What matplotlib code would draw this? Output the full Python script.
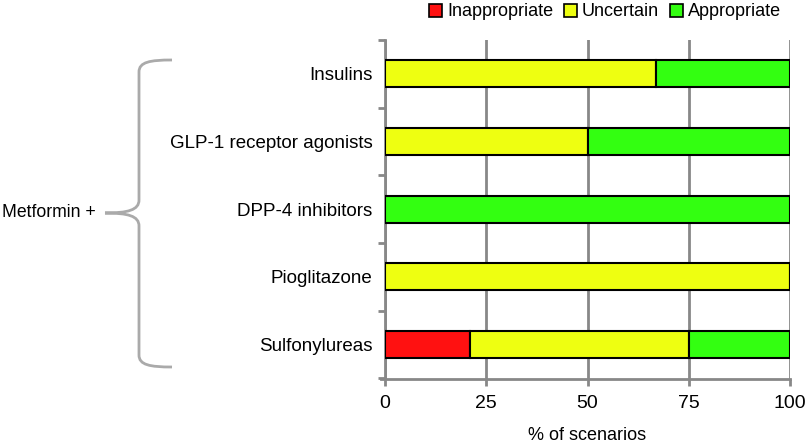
import numpy as np
import matplotlib.pyplot as plt
from matplotlib.path import Path
from matplotlib.patches import PathPatch, Patch
from matplotlib.transforms import Affine2D

categories = ['Insulins', 'GLP-1 receptor agonists', 'DPP-4 inhibitors',
              'Pioglitazone', 'Sulfonylureas']
inappropriate = [0, 0, 0, 0, 21]
uncertain = [67, 50, 0, 100, 54]
appropriate = [33, 50, 100, 0, 25]
series_names = ['Inappropriate', 'Uncertain', 'Appropriate']
colors = ['#ff1111', '#eeff11', '#33ff11']
x_ticks = [0, 25, 50, 75, 100]

plt.rcParams['font.family'] = ['Liberation Sans', 'DejaVu Sans']

W, H = 805, 443
fig = plt.figure(figsize=(W / 100, H / 100), dpi=100)
ax = fig.add_axes([385 / W, 1 - 378.5 / H, 405 / W, 338.5 / H])

grid_c = '#888888'
y = np.arange(len(categories))
left = np.zeros(len(categories))
for name, vals, c in zip(series_names, [inappropriate, uncertain, appropriate], colors):
    vals = np.array(vals, dtype=float)
    ax.barh(y, vals, left=left, height=0.40, color=c, edgecolor='black',
            linewidth=1.5, label=name, zorder=3)
    left += vals

ax.set_ylim(len(categories) - 0.5, -0.5)
ax.set_xlim(0, 100)
ax.set_xticks(x_ticks)
ax.set_xticklabels([str(t) for t in x_ticks], fontsize=14)
ax.set_yticks(y)
ax.set_yticklabels(categories, fontsize=13.5)
ax.tick_params(axis='y', length=0, pad=9)
ax.set_yticks(np.arange(len(categories) + 1) - 0.5, minor=True)
ax.tick_params(axis='y', which='minor', length=5, width=2, color=grid_c, direction='out')
ax.tick_params(axis='x', length=5, width=2, color=grid_c, direction='out', pad=7)
ax.xaxis.grid(True, color=grid_c, linewidth=2)
ax.set_axisbelow(True)
for s in ['top', 'right']:
    ax.spines[s].set_visible(False)
ax.spines['left'].set_color(grid_c)
ax.spines['left'].set_linewidth(2)
ax.spines['bottom'].set_color(grid_c)
ax.spines['bottom'].set_linewidth(2)
ax.spines['bottom'].set_bounds(-1, 100)
ax.set_xlabel('% of scenarios', fontsize=13, labelpad=11)

handles = [Patch(facecolor=c, edgecolor='black', linewidth=1.2) for c in colors]
fig.legend(handles, series_names, loc='center', bbox_to_anchor=(605 / W, 1 - 12 / H),
           ncol=3, frameon=False, handlelength=0.7, handleheight=0.7,
           handletextpad=0.3, columnspacing=0.6, fontsize=13)

# curly brace, pixel coordinates
px = Affine2D().scale(1 / W, -1 / H).translate(0, 1) + fig.transFigure
verts = [(172, 60), (150, 60), (139, 62), (139, 72),
         (139, 200),
         (139, 210), (128, 213), (105, 213),
         (128, 213), (139, 216), (139, 226),
         (139, 355),
         (139, 365), (150, 367), (172, 367)]
codes = [Path.MOVETO, Path.CURVE4, Path.CURVE4, Path.CURVE4,
         Path.LINETO,
         Path.CURVE4, Path.CURVE4, Path.CURVE4,
         Path.CURVE4, Path.CURVE4, Path.CURVE4,
         Path.LINETO,
         Path.CURVE4, Path.CURVE4, Path.CURVE4]
fig.patches.append(PathPatch(Path(verts, codes), transform=px, facecolor='none',
                             edgecolor='#aaaaaa', linewidth=2))
fig.text(2 / W, 1 - 213 / H, 'Metformin +', fontsize=12.7, va='center', ha='left')

fig.savefig('out.png', dpi=100)
